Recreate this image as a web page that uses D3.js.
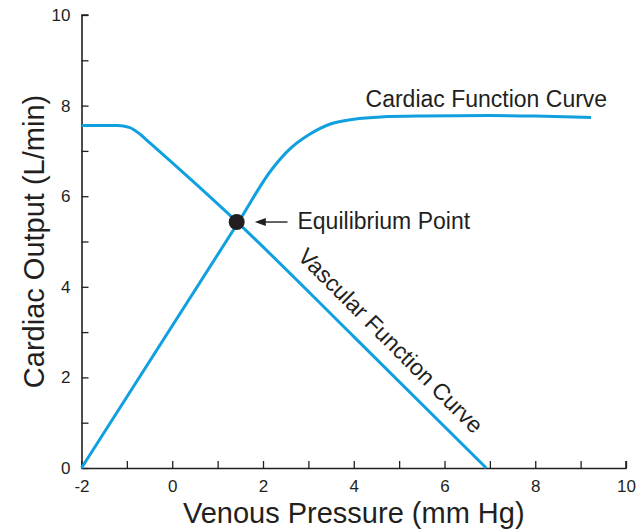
<!DOCTYPE html>
<html><head><meta charset="utf-8">
<script src="https://cdn.jsdelivr.net/npm/d3@7"></script>
<style>body{margin:0;background:#fff}svg{display:block}text{font-family:"Liberation Sans",Arial,sans-serif;fill:#231f20}</style>
</head><body><svg id="c" width="643" height="532"></svg>
<script>
const xTicks = [-2,0,2,4,6,8,10];
const yTicks = [0,2,4,6,8,10];
const xMinor = [-1,1,3,5,7,9];
const yMinor = [1,3,5,7,9];
// Cardiac function curve (venous pressure, cardiac output)
const cardiacX = [-2, 1.46, 2.2, 2.6, 3.0, 3.5, 4.0, 4.6, 5.5, 7.0, 8.0, 9.23];
const cardiacY = [0, 5.43, 6.6, 7.05, 7.35, 7.6, 7.7, 7.75, 7.77, 7.78, 7.77, 7.74];
// Vascular function curve
const vascX = [-2, -1.2, -0.95, -0.75, -0.5, 1.46, 4.0, 6.92];
const vascY = [7.56, 7.56, 7.52, 7.4, 7.18, 5.4, 2.9, 0];
const equilibrium = [1.42, 5.43];
const labels = {cardiac:"Cardiac Function Curve", vascular:"Vascular Function Curve", eq:"Equilibrium Point", xTitle:"Venous Pressure (mm Hg)", yTitle:"Cardiac Output (L/min)"};

const svg = d3.select("#c");
const x = d3.scaleLinear().domain([-2,10]).range([81.5,626]);
const y = d3.scaleLinear().domain([0,10]).range([468,15]);
const blue = "#10a0e0", ink = "#231f20";

// axes
const gx = svg.append("g").attr("transform",`translate(0,${y(0)})`)
  .call(d3.axisBottom(x).tickValues(xTicks.concat(xMinor)).tickSize(-7).tickPadding(12).tickFormat(d=>xTicks.includes(d)?String(d):""));
const gy = svg.append("g").attr("transform",`translate(${x(-2)},0)`)
  .call(d3.axisLeft(y).tickValues(yTicks.concat(yMinor)).tickSize(-7).tickPadding(11).tickFormat(d=>yTicks.includes(d)?String(d):""));
[gx,gy].forEach(g=>{
  g.attr("font-size",17).attr("font-family","Liberation Sans, Arial, sans-serif");
  g.select(".domain").attr("stroke",ink).attr("stroke-width",1.6);
  g.selectAll(".tick line").attr("stroke",ink).attr("stroke-width",1.3);
  g.selectAll(".tick text").attr("fill",ink);
});
gy.select(".domain").attr("d",`M0.5,${y(0)}V${y(10)}H7`);
gx.select(".domain").attr("d",`M${x(-2)},0.5H${x(10)}V-7`);

const line = d3.line().x(d=>x(d[0])).y(d=>y(d[1])).curve(d3.curveMonotoneX);
svg.append("path").attr("d",line(cardiacX.map((v,i)=>[v,cardiacY[i]])))
  .attr("fill","none").attr("stroke",blue).attr("stroke-width",3);
svg.append("path").attr("d",line(vascX.map((v,i)=>[v,vascY[i]])))
  .attr("fill","none").attr("stroke",blue).attr("stroke-width",3);

svg.append("circle").attr("cx",x(equilibrium[0])).attr("cy",y(equilibrium[1])).attr("r",8).attr("fill",ink);

// arrow
svg.append("line").attr("x1",x(2.54)).attr("x2",x(1.9)).attr("y1",y(5.43)).attr("y2",y(5.43)).attr("stroke",ink).attr("stroke-width",1.4);
svg.append("path").attr("d",`M${x(1.82)},${y(5.43)}l11,-4l0,8z`).attr("fill",ink);

svg.append("text").attr("x",x(2.76)).attr("y",y(5.28)).attr("font-size",23).text(labels.eq);
svg.append("text").attr("x",x(4.26)).attr("y",y(7.98)).attr("font-size",23).text(labels.cardiac);
svg.append("text").attr("transform",`translate(${x(2.74)},${y(4.64)}) rotate(45)`).attr("font-size",23).text(labels.vascular);

svg.append("text").attr("x",(x(-2)+x(10))/2).attr("y",523).attr("text-anchor","middle").attr("font-size",29).text(labels.xTitle);
svg.append("text").attr("transform",`translate(44,${(y(0)+y(10))/2}) rotate(-90)`).attr("text-anchor","middle").attr("font-size",29).text(labels.yTitle);
</script></body></html>
